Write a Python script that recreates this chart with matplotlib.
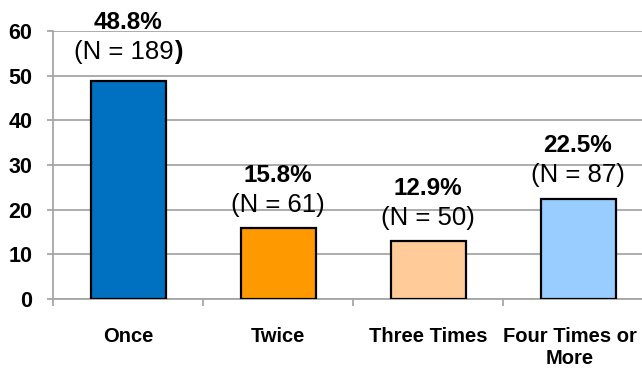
import matplotlib
matplotlib.use("Agg")
import matplotlib.pyplot as plt
import matplotlib.transforms as mtransforms

plt.rcParams['font.family'] = ['Liberation Sans', 'DejaVu Sans']

categories = ["Once", "Twice", "Three Times", "Four Times or\nMore"]
percents = [48.8, 15.8, 12.9, 22.5]
counts = [189, 61, 50, 87]
colors = ["#0070C0", "#FF9900", "#FFCC99", "#99CCFF"]
yticks = [0, 10, 20, 30, 40, 50, 60]

W, H = 642, 371
fig = plt.figure(figsize=(W / 100, H / 100), dpi=100)
ax = fig.add_axes([53 / W, (H - 299) / H, 600 / W, 268 / H])

x = list(range(len(categories)))
ax.bar(x, percents, width=0.5, color=colors, edgecolor="black", linewidth=1.6, zorder=3)

ax.set_xlim(-0.5, 3.5)
ax.set_ylim(0, 60)
ax.set_yticks(yticks)
ax.set_yticklabels([str(v) for v in yticks], fontsize=15.5, fontweight="bold")
ax.yaxis.grid(True, color="#A6A6A6", linewidth=1.3, zorder=0)
ax.set_axisbelow(True)

ax.set_xticks(x)
ax.set_xticklabels(categories, fontsize=14.5, fontweight="bold", linespacing=1.2)
ax.tick_params(axis="x", which="major", length=0, pad=20)
ax.set_xticks([-0.5, 0.5, 1.5, 2.5], minor=True)
ax.tick_params(axis="x", which="minor", length=5, width=1.3, color="#A6A6A6", direction="out")
ax.tick_params(axis="y", length=4, width=1.3, color="#A6A6A6", direction="out", pad=11)

# keep the last (long) category label inside the figure, as in the reference
last = ax.get_xticklabels()[-1]
last.set_transform(last.get_transform() + mtransforms.ScaledTranslation(-8 / 100, 0, fig.dpi_scale_trans))

for s in ["top", "right"]:
    ax.spines[s].set_visible(False)
for s in ["left", "bottom"]:
    ax.spines[s].set_color("#A6A6A6")
    ax.spines[s].set_linewidth(1.3)

for i, (p, n) in enumerate(zip(percents, counts)):
    extra = 4 if i == 0 else 0
    ax.annotate(f"{p:.1f}%", xy=(i, p), xytext=(0, 38 + extra), textcoords="offset points",
                ha="center", va="center", fontsize=17.5, fontweight="bold")
    if i == 0:
        t = ax.annotate(f"(N = {n}", xy=(i, p), xytext=(-3, 17 + extra), textcoords="offset points",
                        ha="center", va="center", fontsize=18.5)
        ax.annotate(")", xy=(1, 0.5), xycoords=t, ha="left", va="center",
                    fontsize=18.5, fontweight="bold")
    else:
        ax.annotate(f"(N = {n})", xy=(i, p), xytext=(0, 17), textcoords="offset points",
                    ha="center", va="center", fontsize=18.5)

fig.savefig("out.png", dpi=100)
